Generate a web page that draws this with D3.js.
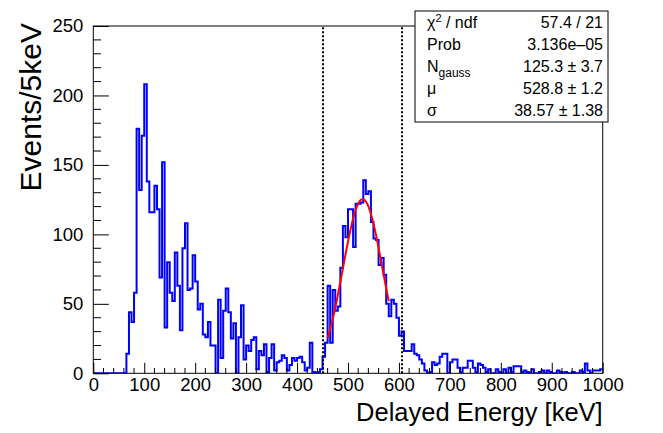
<!DOCTYPE html>
<html>
<head>
<meta charset="utf-8">
<script src="https://cdn.jsdelivr.net/npm/d3@7"></script>
<style>
  html, body { margin: 0; padding: 0; background: #fff; }
  svg { display: block; font-family: "Liberation Sans", Arial, Helvetica, sans-serif; }
</style>
</head>
<body>
<svg id="chart" width="663" height="433"></svg>
<script>
// Delayed energy spectrum, 5 keV bins from 0 to 1000 keV
const binWidth = 5;
const counts = [
  0, 0, 0, 0, 0, 0, 0, 0, 0, 0,            // 0-50
  0, 0, 0, 14, 44, 37, 58, 176, 132, 171,   // 50-100
  208, 138, 116, 116, 135, 118, 69, 152, 33, 80, // 100-150
  58, 52, 87, 63, 31, 90, 108, 60, 61, 85,  // 150-200
  66, 46, 50, 28, 26, 37, 20, 20, 0, 53,    // 200-250
  11, 45, 61, 44, 25, 36, 0, 26, 49, 10,    // 250-300
  20, 16, 24, 26, 3, 16, 13, 21, 1, 11,     // 300-350
  21, 2, 8, 9, 13, 11, 2, 6, 11, 9,         // 350-400
  11, 12, 8, 2, 4, 22, 1, 0, 1, 3,          // 400-450
  12, 22, 63, 22, 60, 45, 48, 76, 106, 98,  // 450-500
  118, 118, 91, 122, 122, 123, 139, 129, 131, 109, // 500-550
  97, 96, 78, 83, 71, 50, 41, 53, 50, 40,   // 550-600
  27, 30, 16, 16, 16, 21, 14, 13, 10, 7,    // 600-650
  2, 0, 1, 8, 6, 7, 12, 14, 14, 0,          // 650-700
  8, 10, 10, 4, 1, 4, 4, 9, 9, 4,           // 700-750
  1, 7, 6, 4, 1, 3, 0, 0, 3, 1,             // 750-800
  0, 3, 0, 4, 1, 5, 5, 5, 1, 2,             // 800-850
  1, 0, 3, 0, 0, 1, 2, 0, 2, 1,             // 850-900
  0, 0, 2, 1, 0, 1, 0, 0, 1, 0,             // 900-950
  0, 2, 1, 7, 2, 0, 2, 2, 2, 3              // 950-1000
];

// Gaussian fit result
const fitN = 125.3, fitMu = 528.8, fitSigma = 38.57;
const fitRange = [460, 580];
// Selection window markers
const cutLines = [451, 606];

// Fit statistics box rows
const statNames = ["χ2 / ndf", "Prob", "Ngauss", "μ", "σ"];
const statValues = ["57.4 / 21", "3.136e\u201305", "125.3 ± 3.7", "528.8 ± 1.2", "38.57 ± 1.38"];

const xTicks = [0, 100, 200, 300, 400, 500, 600, 700, 800, 900, 1000];
const yTicks = [0, 50, 100, 150, 200, 250];

const svg = d3.select("#chart");
const plotL = 93.3, plotR = 602.7, plotT = 26, plotB = 373.3;

const x = d3.scaleLinear().domain([0, 1000]).range([plotL, plotR]);
const y = d3.scaleLinear().domain([0, 250]).range([plotB, plotT]);

svg.append("defs").append("clipPath").attr("id", "plotclip")
  .append("rect").attr("x", plotL).attr("y", plotT - 1)
  .attr("width", plotR - plotL).attr("height", plotB - plotT + 1);

// Histogram outline
const pts = counts.map((c, i) => [i * binWidth, c]);
pts.push([counts.length * binWidth, counts[counts.length - 1]]);
const stepLine = d3.line().x(d => x(d[0])).y(d => y(d[1])).curve(d3.curveStepAfter);
svg.append("path")
  .attr("d", stepLine(pts))
  .attr("fill", "none")
  .attr("stroke", "#0000ff")
  .attr("stroke-width", 2)
  .attr("clip-path", "url(#plotclip)");

// Gaussian fit curve
const fitPts = d3.range(fitRange[0], fitRange[1] + 0.01, 1)
  .map(e => [e, fitN * Math.exp(-0.5 * Math.pow((e - fitMu) / fitSigma, 2))]);
svg.append("path")
  .attr("d", d3.line().x(d => x(d[0])).y(d => y(d[1]))(fitPts))
  .attr("fill", "none")
  .attr("stroke", "#ff0000")
  .attr("stroke-width", 2);

// Dotted selection lines
svg.selectAll("line.cut").data(cutLines).enter().append("line")
  .attr("class", "cut")
  .attr("x1", d => x(d)).attr("x2", d => x(d))
  .attr("y1", plotB).attr("y2", plotT)
  .attr("stroke", "#000").attr("stroke-width", 2)
  .attr("stroke-dasharray", "2,2");

// Frame
svg.append("rect")
  .attr("x", plotL).attr("y", plotT)
  .attr("width", plotR - plotL).attr("height", plotB - plotT)
  .attr("fill", "none").attr("stroke", "#000").attr("stroke-width", 1);

// X axis (ticks inside)
const xAxis = d3.axisBottom(x).tickValues(xTicks).tickSize(-10.5).tickPadding(5).tickFormat(d3.format("d"));
const gx = svg.append("g").attr("transform", `translate(0,${plotB})`).call(xAxis);
gx.select(".domain").remove();
gx.selectAll("text").attr("font-size", 18.5).attr("fill", "#000")
  .attr("font-family", "Liberation Sans, Arial, sans-serif");
const xMinor = d3.range(0, 1001, 20).filter(v => v % 100 !== 0);
svg.append("g").selectAll("line").data(xMinor).enter().append("line")
  .attr("x1", d => x(d)).attr("x2", d => x(d))
  .attr("y1", plotB).attr("y2", plotB - 5.3)
  .attr("stroke", "#000");

// Y axis (ticks inside)
const yAxis = d3.axisLeft(y).tickValues(yTicks).tickSize(-15.5).tickPadding(10).tickFormat(d3.format("d"));
const gy = svg.append("g").attr("transform", `translate(${plotL},0)`).call(yAxis);
gy.select(".domain").remove();
gy.selectAll("text").attr("font-size", 18.5).attr("fill", "#000")
  .attr("font-family", "Liberation Sans, Arial, sans-serif");
const yMinor = d3.range(0, 251, 10).filter(v => v % 50 !== 0);
svg.append("g").selectAll("line").data(yMinor).enter().append("line")
  .attr("x1", plotL).attr("x2", plotL + 7.7)
  .attr("y1", d => y(d)).attr("y2", d => y(d))
  .attr("stroke", "#000");

// Axis titles
svg.append("text")
  .attr("x", plotR).attr("y", 421)
  .attr("text-anchor", "end")
  .attr("font-size", 25.5).attr("fill", "#000")
  .text("Delayed Energy [keV]");
svg.append("text")
  .attr("transform", `translate(41,${plotT - 3}) rotate(-90)`)
  .attr("text-anchor", "end")
  .attr("font-size", 30).attr("fill", "#000")
  .text("Events/5keV");

// Fit statistics box
const box = { x0: 415, y0: 11, x1: 608, y1: 122 };
svg.append("rect")
  .attr("x", box.x0).attr("y", box.y0)
  .attr("width", box.x1 - box.x0).attr("height", box.y1 - box.y0)
  .attr("fill", "#fff").attr("stroke", "#000").attr("stroke-width", 1);
const rowH = (box.y1 - box.y0) / statNames.length;
const rows = svg.append("g").attr("font-size", 16).attr("fill", "#000");
statNames.forEach((name, i) => {
  const by = box.y0 + rowH * (i + 0.5) + 5.5;
  const t = rows.append("text").attr("x", 427).attr("y", by);
  if (name === "χ2 / ndf") {
    t.append("tspan").text("χ");
    t.append("tspan").attr("dy", -6).attr("font-size", 11).text("2");
    t.append("tspan").attr("dy", 6).text(" / ndf");
  } else if (name === "Ngauss") {
    t.append("tspan").text("N");
    t.append("tspan").attr("dy", 5).attr("font-size", 12).text("gauss");
  } else {
    t.text(name);
  }
  rows.append("text").attr("x", 603).attr("y", by)
    .attr("text-anchor", "end").text(statValues[i]);
});
</script>
</body>
</html>
